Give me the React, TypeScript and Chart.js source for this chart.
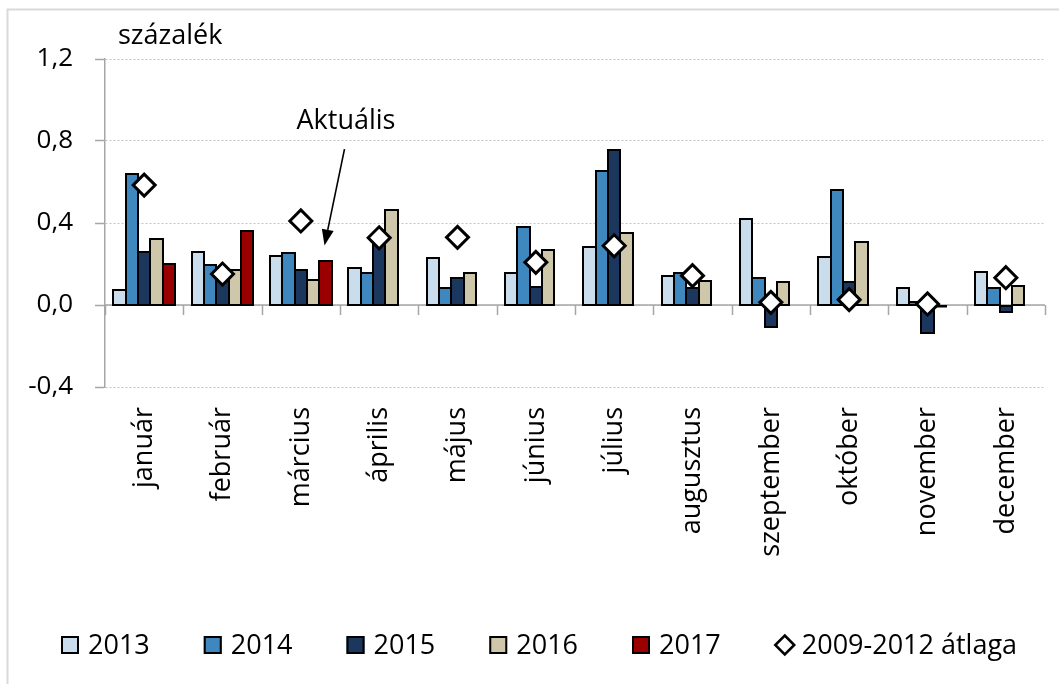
import React, { useEffect, useRef } from 'react';
import { Chart, registerables } from 'chart.js';

Chart.register(...registerables);

const months = ['január', 'február', 'március', 'április', 'május', 'június', 'július', 'augusztus', 'szeptember', 'október', 'november', 'december'];
const s2013 = [0.073, 0.259, 0.237, 0.179, 0.229, 0.158, 0.283, 0.14, 0.418, 0.233, 0.081, 0.163];
const s2014 = [0.639, 0.195, 0.254, 0.158, 0.081, 0.379, 0.652, 0.154, 0.133, 0.563, 0.016, 0.081];
const s2015 = [0.259, 0.14, 0.169, 0.32, 0.133, 0.086, 0.756, 0.083, -0.109, 0.114, -0.135, -0.036];
const s2016 = [0.322, 0.169, 0.12, 0.465, 0.156, 0.27, 0.35, 0.119, 0.111, 0.309, -0.006, 0.091];
const s2017 = [0.198, 0.361, 0.215, null, null, null, null, null, null, null, null, null];
const avg20092012 = [0.585, 0.151, 0.41, 0.328, 0.33, 0.208, 0.289, 0.143, 0.013, 0.026, 0.005, 0.133];

const seriesNames = ['2013', '2014', '2015', '2016', '2017'];
const avgName = '2009-2012 átlaga';
const barColors = ['#C9DDEC', '#3E87BF', '#1B375E', '#CEC7A9', '#9B0000'];

const yMin = -0.4;
const yMax = 1.2;
const yStep = 0.4;

const unitLabel = 'százalék';
const noteLabel = 'Aktuális';
const noteMonthIndex = 2;
const noteTextValue = 0.86;
const noteArrowStartValue = 0.76;
const noteArrowTipValue = 0.29;

const FONT = "'Open Sans', sans-serif";

const decorPlugin = {
  id: 'decor',
  beforeDraw(chart: any) {
    const { ctx, width, height } = chart;
    ctx.save();
    ctx.fillStyle = '#ffffff';
    ctx.fillRect(0, 0, width, height);
    ctx.strokeStyle = '#d9d9d9';
    ctx.lineWidth = 2;
    ctx.beginPath();
    ctx.moveTo(7.5, height);
    ctx.lineTo(7.5, 9.5);
    ctx.lineTo(width, 9.5);
    ctx.stroke();
    ctx.restore();
  },
  beforeDatasetsDraw(chart: any) {
    const { ctx, chartArea, scales } = chart;
    const x = scales.x;
    const y = scales.y;
    const y0 = y.getPixelForValue(0);
    ctx.save();
    ctx.strokeStyle = '#a6a6a6';
    ctx.lineWidth = 1.5;
    ctx.beginPath();
    ctx.moveTo(chartArea.left, y0);
    ctx.lineTo(chartArea.right, y0);
    const w = (x.right - x.left) / months.length;
    for (let i = 0; i <= months.length; i++) {
      const px = Math.round(x.left + i * w) + 0.5;
      ctx.moveTo(px, y0);
      ctx.lineTo(px, y0 + 10);
    }
    ctx.stroke();
    ctx.restore();
  },
  afterDatasetDraw(chart: any, args: any) {
    const meta = args.meta;
    if (meta.type !== 'bar') return;
    const { ctx } = chart;
    ctx.save();
    ctx.strokeStyle = '#000';
    ctx.lineWidth = 2;
    meta.data.forEach((el: any, i: number) => {
      const v = meta._dataset.data[i];
      if (v === null || v === undefined) return;
      const l = Math.round(el.x - el.width / 2);
      const r = Math.round(el.x + el.width / 2);
      const t = Math.round(Math.min(el.y, el.base));
      const b = Math.round(Math.max(el.y, el.base));
      ctx.strokeRect(l, t, r - l, Math.max(b - t, 0.5));
    });
    ctx.restore();
  },
  afterDraw(chart: any) {
    const { ctx, chartArea, scales } = chart;
    const y = scales.y;
    ctx.save();
    ctx.fillStyle = '#000';
    ctx.font = `27px ${FONT}`;
    ctx.textBaseline = 'alphabetic';
    ctx.textAlign = 'left';
    // unit label
    ctx.fillText(unitLabel, chartArea.left + 13, chartArea.top - 15);

    // annotation
    const bar = chart.getDatasetMeta(4).data[noteMonthIndex];
    const tipX = bar.x - 1;
    const tipY = y.getPixelForValue(noteArrowTipValue);
    const startX = bar.x + 19;
    const startY = y.getPixelForValue(noteArrowStartValue);
    ctx.fillText(noteLabel, bar.x - 29, y.getPixelForValue(noteTextValue));
    const ang = Math.atan2(tipY - startY, tipX - startX);
    const headLen = 16;
    const headHalf = 6;
    const baseX = tipX - headLen * Math.cos(ang);
    const baseY = tipY - headLen * Math.sin(ang);
    ctx.strokeStyle = '#000';
    ctx.lineWidth = 1.6;
    ctx.beginPath();
    ctx.moveTo(startX, startY);
    ctx.lineTo(baseX, baseY);
    ctx.stroke();
    ctx.beginPath();
    ctx.moveTo(tipX, tipY);
    ctx.lineTo(baseX + headHalf * Math.sin(ang), baseY - headHalf * Math.cos(ang));
    ctx.lineTo(baseX - headHalf * Math.sin(ang), baseY + headHalf * Math.cos(ang));
    ctx.closePath();
    ctx.fill();

    // legend
    const items = [...seriesNames.map((n, i) => ({ name: n, color: barColors[i], diamond: false })), { name: avgName, color: '#fff', diamond: true }];
    let lx = chartArea.left - 44;
    const boxTop = 636;
    const box = 18;
    for (const it of items) {
      if (it.diamond) {
        const cx = lx + 10;
        const cy = boxTop + 9;
        ctx.beginPath();
        ctx.moveTo(cx, cy - 9.5);
        ctx.lineTo(cx + 9.5, cy);
        ctx.lineTo(cx, cy + 9.5);
        ctx.lineTo(cx - 9.5, cy);
        ctx.closePath();
        ctx.fillStyle = '#fff';
        ctx.fill();
        ctx.lineWidth = 2.5;
        ctx.strokeStyle = '#000';
        ctx.stroke();
      } else {
        ctx.fillStyle = it.color;
        ctx.fillRect(lx, boxTop, box, box);
        ctx.lineWidth = 2;
        ctx.strokeStyle = '#000';
        ctx.strokeRect(lx + 1, boxTop + 1, box - 2, box - 2);
      }
      ctx.fillStyle = '#000';
      const tx = lx + box + 9;
      ctx.fillText(it.name, tx, boxTop + box);
      lx = tx + ctx.measureText(it.name).width + 54;
    }
    ctx.restore();
  },
};

export default function App() {
  const ref = useRef<HTMLCanvasElement | null>(null);

  useEffect(() => {
    if (!ref.current) return;
    const barSets = [s2013, s2014, s2015, s2016, s2017].map((d, i) => ({
      type: 'bar' as const,
      label: seriesNames[i],
      data: d,
      backgroundColor: barColors[i],
      borderWidth: 0,
      categoryPercentage: 0.787,
      barPercentage: 1,
      order: 1,
    }));
    const chart = new Chart(ref.current, {
      type: 'bar',
      data: {
        labels: months,
        datasets: [
          ...barSets,
          {
            type: 'line' as const,
            label: avgName,
            data: avg20092012,
            showLine: false,
            pointStyle: 'rectRot',
            pointRadius: 11,
            pointBackgroundColor: '#fff',
            pointBorderColor: '#000',
            pointBorderWidth: 3,
            order: 0,
          } as any,
        ],
      },
      options: {
        animation: false,
        responsive: true,
        maintainAspectRatio: false,
        events: [],
        layout: { padding: { top: 59, left: 0, right: 0, bottom: 0 } },
        plugins: {
          legend: { display: false },
          tooltip: { enabled: false },
        },
        scales: {
          x: {
            type: 'category',
            offset: true,
            grid: { display: false, drawTicks: false },
            border: { display: false },
            ticks: {
              autoSkip: false,
              minRotation: 90,
              maxRotation: 90,
              padding: 20,
              color: '#000',
              font: { family: FONT, size: 27 },
            },
            afterFit: (scale: any) => {
              scale.height = 297;
            },
          },
          y: {
            min: yMin,
            max: yMax,
            grid: {
              color: '#c4c4c4',
              lineWidth: 1,
              drawTicks: true,
              tickLength: 10,
              tickColor: '#a6a6a6',
              tickWidth: 1.5,
            },
            border: { display: true, color: '#a6a6a6', width: 1.5, dash: [2, 2] },
            ticks: {
              stepSize: yStep,
              padding: 22,
              color: '#000',
              font: { family: FONT, size: 26 },
              callback: (v: any) => {
                const n = Math.abs(Number(v)) < 1e-9 ? 0 : Number(v);
                return n.toFixed(1).replace('.', ',');
              },
            },
            afterFit: (scale: any) => {
              scale.width = 105;
            },
          },
        },
      },
      plugins: [decorPlugin],
    } as any);
    return () => chart.destroy();
  }, []);

  return (
    <div style={{ position: 'fixed', left: 0, top: 0, width: 1059, height: 684, background: '#fff' }}>
      <canvas ref={ref} />
    </div>
  );
}
